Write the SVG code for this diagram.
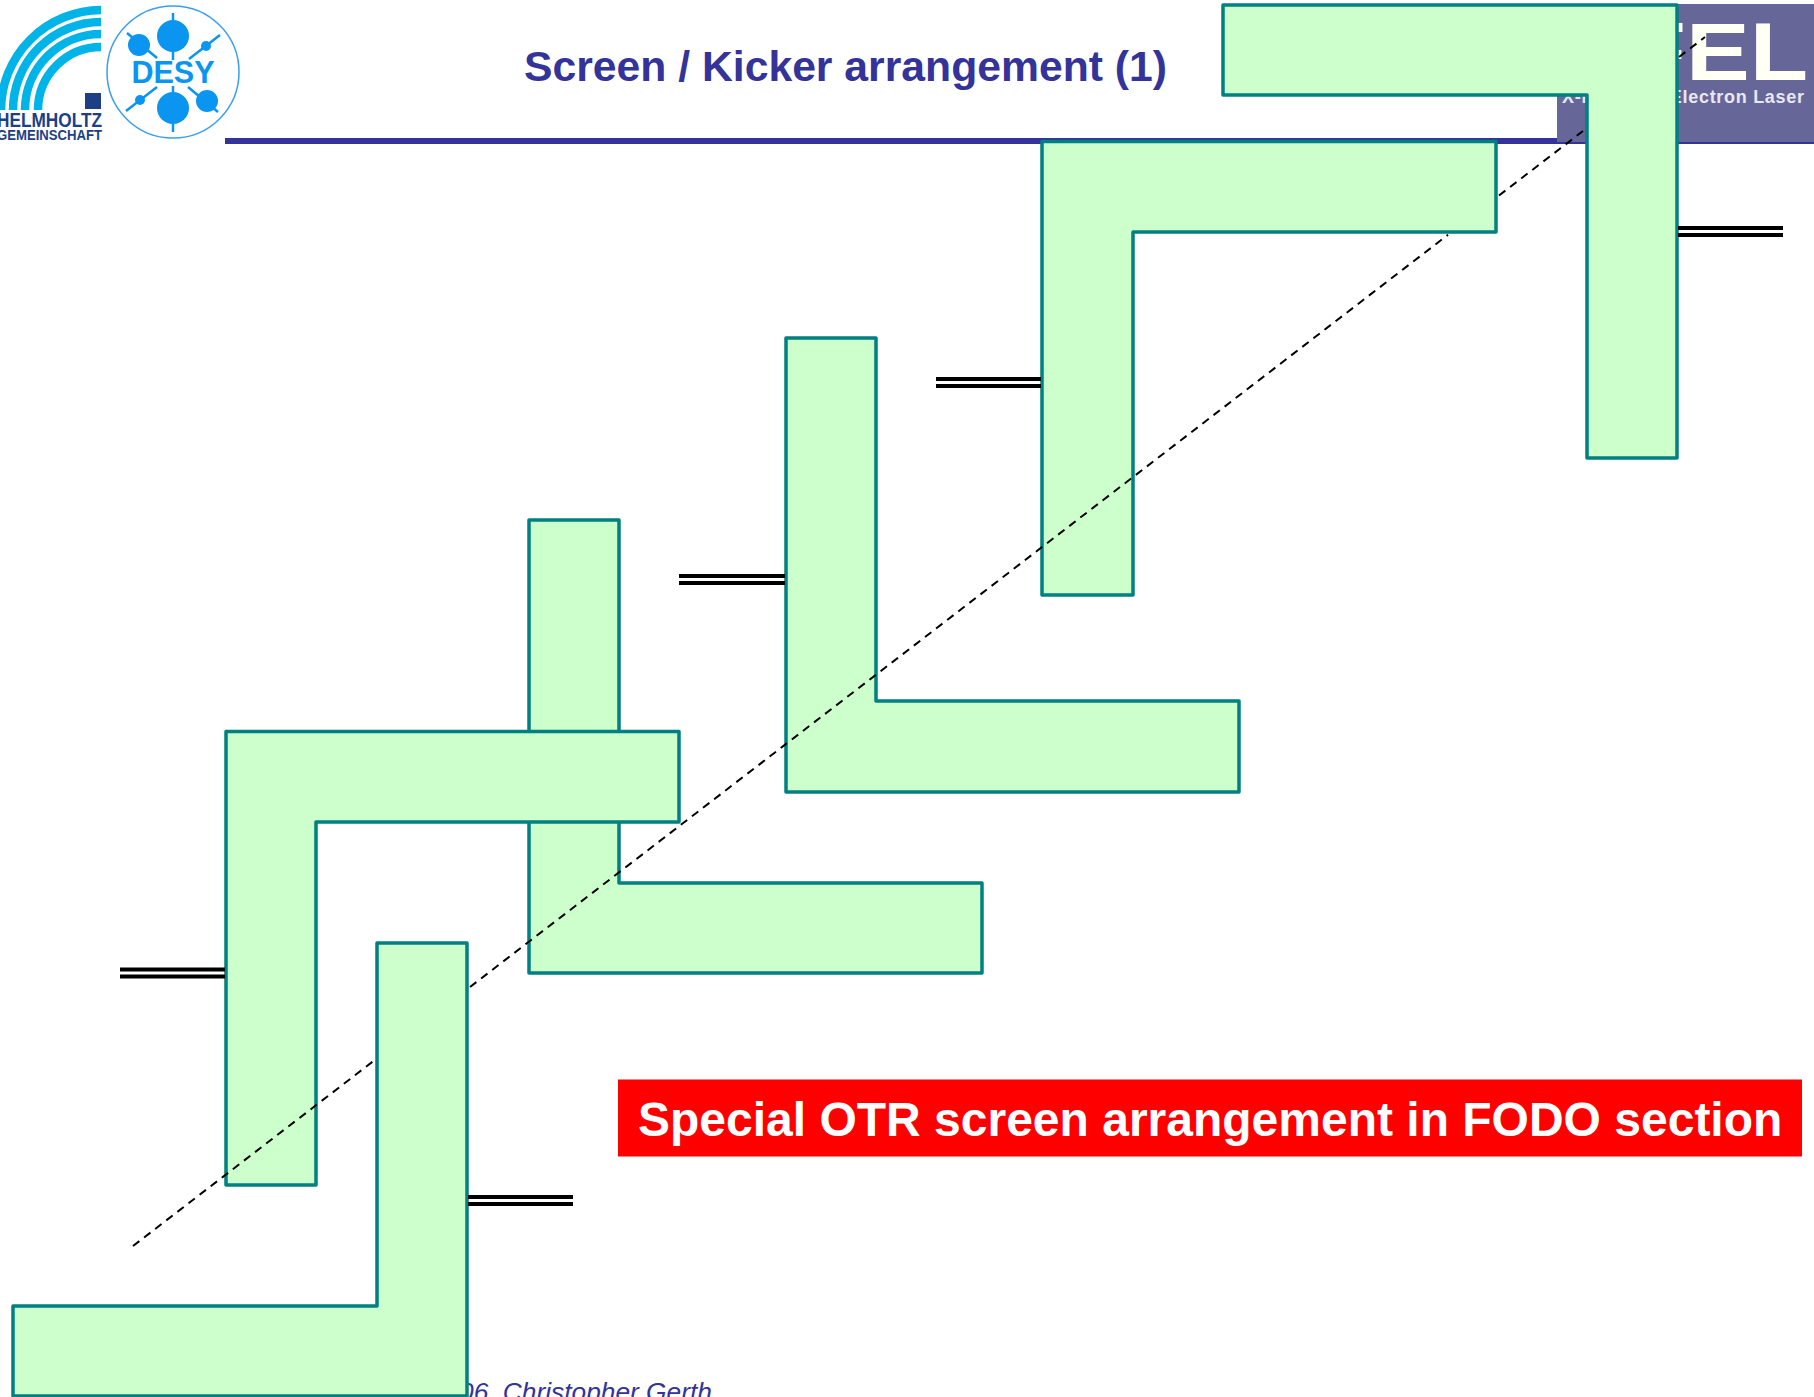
<svg xmlns="http://www.w3.org/2000/svg" width="1814" height="1397" viewBox="0 0 1814 1397">
<style>
text{font-family:"Liberation Sans",Arial,sans-serif}
.kicker{fill:#ccffcc;stroke:#008080;stroke-width:3.5;stroke-linejoin:round}
.dbl{stroke:#000;stroke-width:4;fill:none}
.beam{stroke:#000;stroke-width:2;stroke-dasharray:8 6;fill:none}
.arc{fill:none;stroke:#00b4e8;stroke-width:8.5}
.dball{fill:#0a96f0}
.dline{stroke:#0a96f0;stroke-width:2.5;fill:none}
</style>
<rect width="1814" height="1397" fill="#fff"/>
<g id="helmholtz-logo">
<path class="arc" d="M101 10A101 100 0 0 0 1 110"/>
<path class="arc" d="M101 22A88 88 0 0 0 13 110"/>
<path class="arc" d="M101 34A76 76 0 0 0 25 110"/>
<path class="arc" d="M101 47A63 63 0 0 0 38 110"/>
<rect x="85" y="93" width="16" height="16" fill="#1c3f85"/>
<text x="-3" y="127" font-size="19.5" font-weight="700" fill="#1c3f85" textLength="105" lengthAdjust="spacingAndGlyphs">HELMHOLTZ</text>
<text x="-3" y="140" font-size="14.5" font-weight="700" fill="#1c3f85" textLength="105" lengthAdjust="spacingAndGlyphs">GEMEINSCHAFT</text>
</g>
<g id="desy-logo">
<circle cx="173" cy="72" r="66" fill="#fff" stroke="#3a9ff0" stroke-width="1.5"/>
<path class="dline" d="M173 13V60M173 86V132M127 33L157 58M220 35L189 59M126 111L157 87M218 112L188 87"/>
<circle class="dball" cx="173" cy="36" r="16"/>
<circle class="dball" cx="173" cy="108" r="16"/>
<circle class="dball" cx="139" cy="45" r="11"/>
<circle class="dball" cx="207" cy="101" r="11"/>
<circle class="dball" cx="206" cy="46" r="5"/>
<circle class="dball" cx="140" cy="100" r="5"/>
<text x="173" y="83" text-anchor="middle" font-size="30.5" font-weight="700" fill="#0a96f0">DESY</text>
</g>
<g id="title">
<text x="524" y="81" font-size="42.7" font-weight="700" fill="#333399">Screen / Kicker arrangement (1)</text>
</g>
<g id="header-rule">
<rect x="225" y="138" width="1340" height="6" fill="#333399"/>
<rect x="1557" y="142" width="257" height="2" fill="#333399"/>
</g>
<g id="xfel-logo">
<rect x="1557" y="4" width="257" height="138" fill="#666699"/>
<text transform="translate(1627.6 80) scale(1.18 1)" font-size="81" font-weight="700" fill="#fffff4">FEL</text>
<text x="1562" y="103" font-size="18" font-weight="700" fill="#e8e8f2" textLength="242">X-Ray Free-Electron Laser</text>
</g>
<g id="footer">
<text x="459" y="1401" font-size="26.3" font-style="italic" fill="#333399">06, Christopher Gerth</text>
</g>
<g id="kicker-d"><path class="kicker" d="M529 520H619V883H982V973H529Z"/></g>
<g id="kicker-e"><path class="kicker" d="M226 731.500H679V822H316V1185H226Z"/></g>
<g id="kicker-c"><path class="kicker" d="M786 338H876V701H1239V792H786Z"/></g>
<g id="kicker-b"><path class="kicker" d="M1042 141.500H1496V232H1133V595H1042Z"/></g>
<g id="kicker-a"><path class="kicker" d="M1223 5H1677V458H1587V95H1223Z"/></g>
<g id="kicker-f"><path class="kicker" d="M377 943H467V1396H13V1306H377Z"/></g>
<g id="connectors">
<path class="dbl" d="M120 969.500H225M120 976.500H225"/>
<path class="dbl" d="M468 1197H573M468 1204H573"/>
<path class="dbl" d="M679 576H785M679 583H785"/>
<path class="dbl" d="M936 379H1041M936 386H1041"/>
<path class="dbl" d="M1678 228H1783M1678 235H1783"/>
<path class="beam" d="M133 1246L373 1061.400"/>
<path class="beam" d="M470 987L1448 234.800"/>
<path class="beam" d="M1499 195.500L1583 131"/>
<path class="beam" d="M1679 57L1705 37"/>
</g>
<g id="banner">
<rect x="618" y="1079.500" width="1184" height="77" fill="#ff0000"/>
<text x="638" y="1135.500" font-size="48" font-weight="700" fill="#fff">Special OTR screen arrangement in FODO section</text>
</g>
</svg>
